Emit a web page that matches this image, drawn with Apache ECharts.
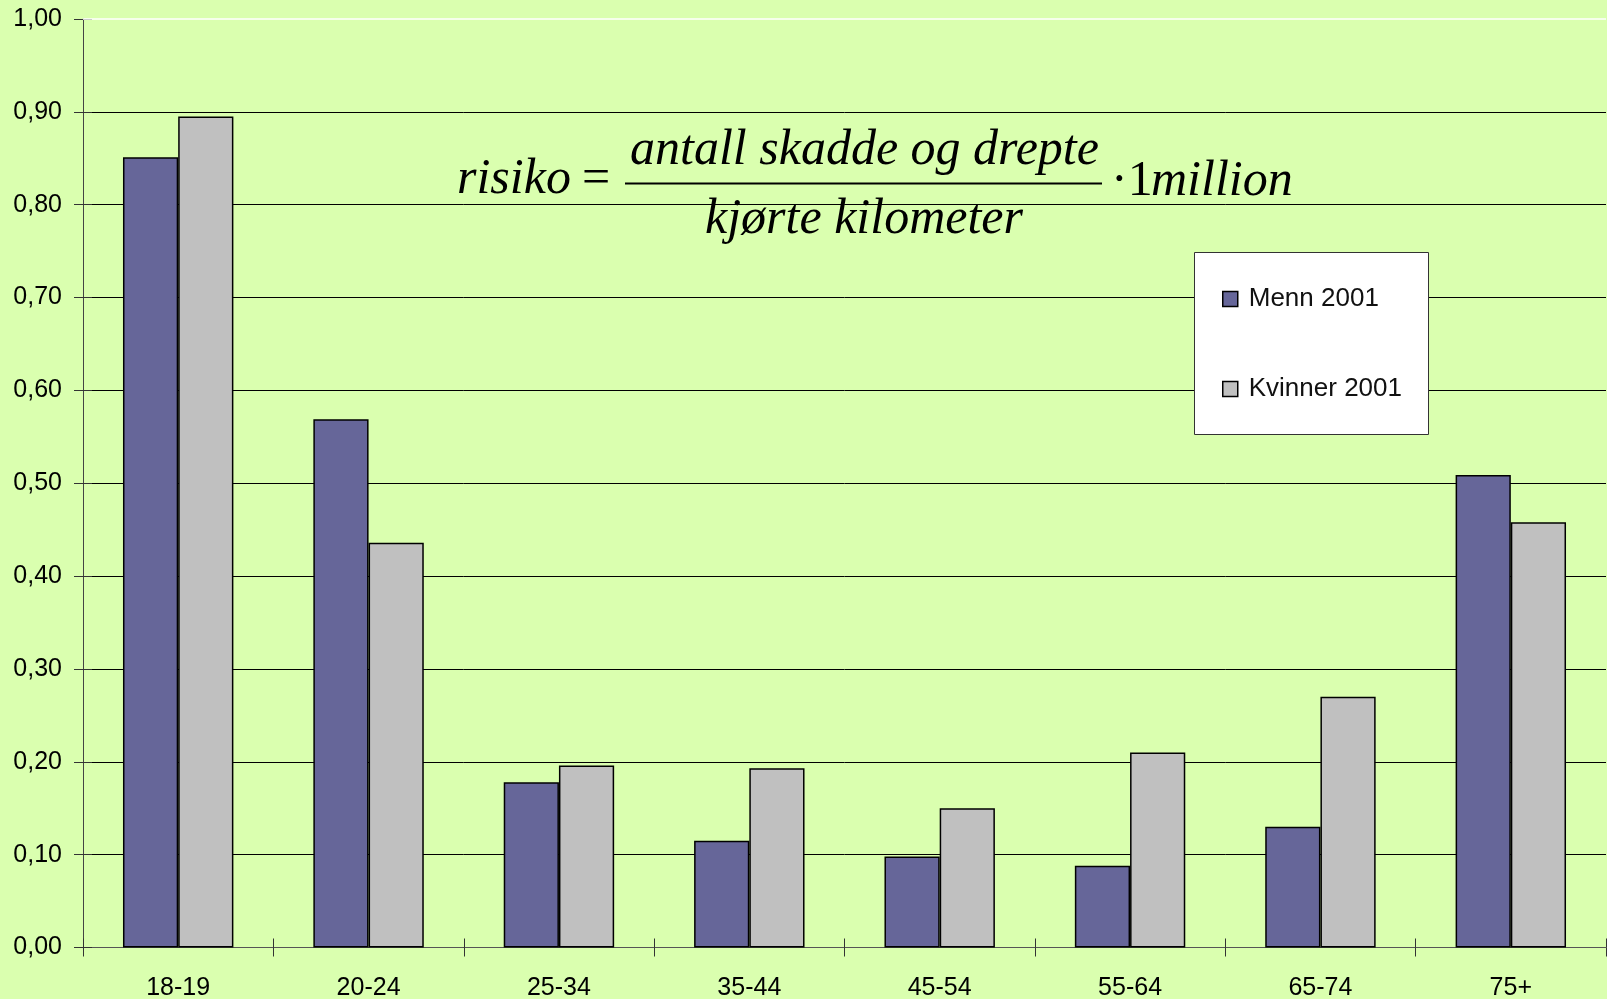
<!DOCTYPE html>
<html>
<head>
<meta charset="utf-8">
<script src="https://cdn.jsdelivr.net/npm/echarts@6/dist/echarts.min.js"></script>
<style>
html,body{margin:0;padding:0;background:#DAFFAF;}
#c{width:1607px;height:999px;}
</style>
</head>
<body>
<div id="c"></div>
<script>
const categories = ['18-19', '20-24', '25-34', '35-44', '45-54', '55-64', '65-74', '75+'];
const menn2001 = [0.851, 0.569, 0.178, 0.115, 0.098, 0.088, 0.130, 0.509];
const kvinner2001 = [0.895, 0.436, 0.196, 0.193, 0.150, 0.210, 0.270, 0.458];
const seriesNames = ['Menn 2001', 'Kvinner 2001'];
const yMin = 0, yMax = 1, yStep = 0.1;

const fmt = v => v.toFixed(2).replace('.', ',');
const serif = '"Liberation Serif", "DejaVu Serif", serif';
const sans = '"Liberation Sans", Arial, sans-serif';
const FS = 50;
const mid = b => b - 0.3 * FS;

const chart = echarts.init(document.getElementById('c'), null, {renderer: 'canvas'});
chart.setOption({
  backgroundColor: '#DAFFAF',
  animation: false,
  grid: {left: 83, right: 1, top: 19, bottom: 51.5, containLabel: false, outerBoundsMode: 'none'},
  xAxis: [{
    type: 'category', data: categories, position: 'bottom',
    axisLine: {show: true, lineStyle: {color: '#555', width: 1}},
    axisTick: {show: true, length: 9, interval: 0, lineStyle: {color: '#333'}},
    axisLabel: {color: '#000', fontFamily: sans, fontSize: 25, margin: 28, interval: 0},
    splitLine: {show: false}
  }, {
    type: 'category', data: categories, position: 'bottom',
    axisLine: {show: false},
    axisTick: {show: true, inside: true, length: 9, interval: 0, lineStyle: {color: '#333'}},
    axisLabel: {show: false},
    splitLine: {show: false}
  }],
  yAxis: [{
    type: 'value', min: yMin, max: yMax, interval: yStep, position: 'left',
    axisLine: {show: true, lineStyle: {color: '#444', width: 1}},
    axisTick: {show: true, length: 9, lineStyle: {color: '#333'}},
    axisLabel: {color: '#000', fontFamily: sans, fontSize: 25, margin: 21, formatter: fmt},
    splitLine: {show: true, showMaxLine: false, lineStyle: {color: '#000', width: 1}}
  }, {
    type: 'value', min: yMin, max: yMax, interval: yStep, position: 'left', offset: 0,
    axisLine: {show: false},
    axisTick: {show: true, inside: true, length: 9, lineStyle: {color: '#333'}},
    axisLabel: {show: false},
    splitLine: {show: false}
  }],
  legend: {
    orient: 'vertical', left: 1222, top: 286, padding: 0, z: 20, zlevel: 0,
    itemWidth: 15, itemHeight: 15, itemGap: 64,
    icon: 'rect',
    data: seriesNames,
    itemStyle: {borderColor: '#000', borderWidth: 1.5},
    textStyle: {color: '#111', fontFamily: sans, fontSize: 26, padding: [0, 0, 0, 6]}
  },
  series: [{
    name: seriesNames[0], type: 'bar', data: menn2001,
    barGap: '0%', barCategoryGap: '42%',
    itemStyle: {color: '#666699', borderColor: '#000', borderWidth: 1.5},
    markLine: {
      silent: true, symbol: 'none', label: {show: false},
      lineStyle: {color: '#ffffff', width: 1.5, type: 'solid'},
      data: [{yAxis: yMax}]
    }
  }, {
    name: seriesNames[1], type: 'bar', data: kvinner2001,
    barGap: '0%', barCategoryGap: '42%',
    itemStyle: {color: '#C0C0C0', borderColor: '#000', borderWidth: 1.5}
  }],
  graphic: [
    {type: 'rect', z: 3, shape: {x: 1194.5, y: 252.5, width: 234, height: 182},
     style: {fill: '#ffffff', stroke: '#333', lineWidth: 1}},
    {type: 'text', z: 10, x: 457, y: mid(195),
     style: {text: 'risiko', font: 'italic ' + FS + 'px ' + serif, fill: '#000', verticalAlign: 'middle', align: 'left'}},
    {type: 'text', z: 10, x: 582, y: mid(195),
     style: {text: '=', font: FS + 'px ' + serif, fill: '#000', verticalAlign: 'middle', align: 'left'}},
    {type: 'line', z: 10, shape: {x1: 625, y1: 183.5, x2: 1102, y2: 183.5},
     style: {stroke: '#000', lineWidth: 2}},
    {type: 'text', z: 10, x: 864.5, y: mid(166),
     style: {text: 'antall skadde og drepte', font: 'italic ' + FS + 'px ' + serif, fill: '#000', verticalAlign: 'middle', align: 'center'}},
    {type: 'text', z: 10, x: 864, y: mid(235),
     style: {text: 'kjørte kilometer', font: 'italic ' + FS + 'px ' + serif, fill: '#000', verticalAlign: 'middle', align: 'center'}},
    {type: 'text', z: 10, x: 1111, y: mid(197),
     style: {text: '·1', font: FS + 'px ' + serif, fill: '#000', verticalAlign: 'middle', align: 'left'}},
    {type: 'text', z: 10, x: 1151, y: mid(197),
     style: {text: 'million', font: 'italic ' + FS + 'px ' + serif, fill: '#000', verticalAlign: 'middle', align: 'left'}}
  ]
});
</script>
</body>
</html>
